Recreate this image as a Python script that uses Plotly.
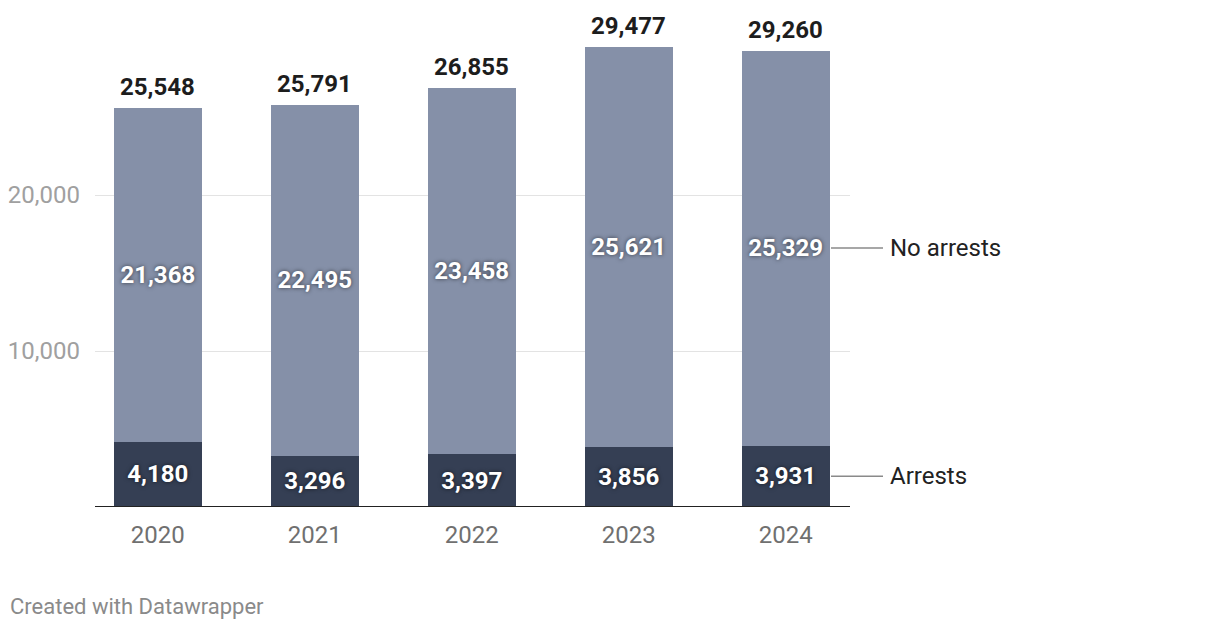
import plotly.graph_objects as go

years = ["2020", "2021", "2022", "2023", "2024"]
arrests = [4180, 3296, 3397, 3856, 3931]
no_arrests = [21368, 22495, 23458, 25621, 25329]
totals = [a + b for a, b in zip(arrests, no_arrests)]
series_labels = ["Arrests", "No arrests"]
y_ticks = [10000, 20000]

FONT = "Roboto"
C_DARK = "#353f54"
C_LIGHT = "#8590a8"
BAR_W = 0.56
FS = 24

fig = go.Figure()
for vals, color in [(arrests, C_DARK), (no_arrests, C_LIGHT)]:
    fig.add_trace(go.Bar(
        x=years, y=vals, width=BAR_W, marker=dict(color=color, line=dict(width=0)),
        texttemplate="%{y:,}", textposition="inside", insidetextanchor="middle",
        constraintext="none",
        textfont=dict(family=FONT, size=FS, color="white", weight="bold",
                      shadow="0px 0px 4px rgba(0,0,0,0.6)"),
        hoverinfo="skip", showlegend=False,
    ))

annotations = []
for i, t in enumerate(totals):
    annotations.append(dict(x=i, y=t, xref="x", yref="y", text=f"{t:,}",
                            showarrow=False, yanchor="bottom", yshift=5,
                            font=dict(family=FONT, size=FS, color="#1d1d1d", weight="bold")))

# right-side series labels aligned with last bar segment centres
last_mid = [arrests[-1] / 2, arrests[-1] + no_arrests[-1] / 2]
shapes = []
for lab, ym in zip(series_labels, last_mid):
    annotations.append(dict(x=(888 - 95) / 755, y=ym, xref="paper", yref="y", text=lab,
                            showarrow=False, xanchor="left", yanchor="middle",
                            font=dict(family=FONT, size=FS, color="#222222")))
    shapes.append(dict(type="line", xref="paper", yref="y", x0=(831 - 95) / 755,
                       x1=(883 - 95) / 755, y0=ym, y1=ym,
                       line=dict(color="#8a8a8a", width=1.5)))

annotations.append(dict(x=(8 - 95) / 755, y=-(606 - 507) / 468, xref="paper", yref="paper",
                        text="Created with Datawrapper", showarrow=False,
                        xanchor="left", yanchor="middle",
                        font=dict(family=FONT, size=22, color="#8a8a8a")))

# baseline
shapes.append(dict(type="line", xref="paper", yref="y", x0=0, x1=1, y0=0, y1=0,
                   line=dict(color="#222222", width=2)))

fig.update_layout(
    barmode="stack", width=1220, height=630,
    margin=dict(l=95, r=370, t=39, b=123),
    paper_bgcolor="white", plot_bgcolor="white",
    font=dict(family=FONT),
    annotations=annotations, shapes=shapes,
    xaxis=dict(type="category", range=[-0.4, 4.41], showgrid=False, zeroline=False,
               showline=False, ticks="", ticklabelstandoff=11, automargin=False,
               tickfont=dict(family=FONT, size=FS, color="#707070")),
    yaxis=dict(range=[0, 30000], tickvals=y_ticks, tickformat=",", showgrid=True,
               gridcolor="#e3e3e3", gridwidth=1, zeroline=False, showline=False,
               ticks="", ticklabelstandoff=14, automargin=False,
               tickfont=dict(family=FONT, size=FS, color="#a0a0a0")),
)

fig.write_html("out.html")
